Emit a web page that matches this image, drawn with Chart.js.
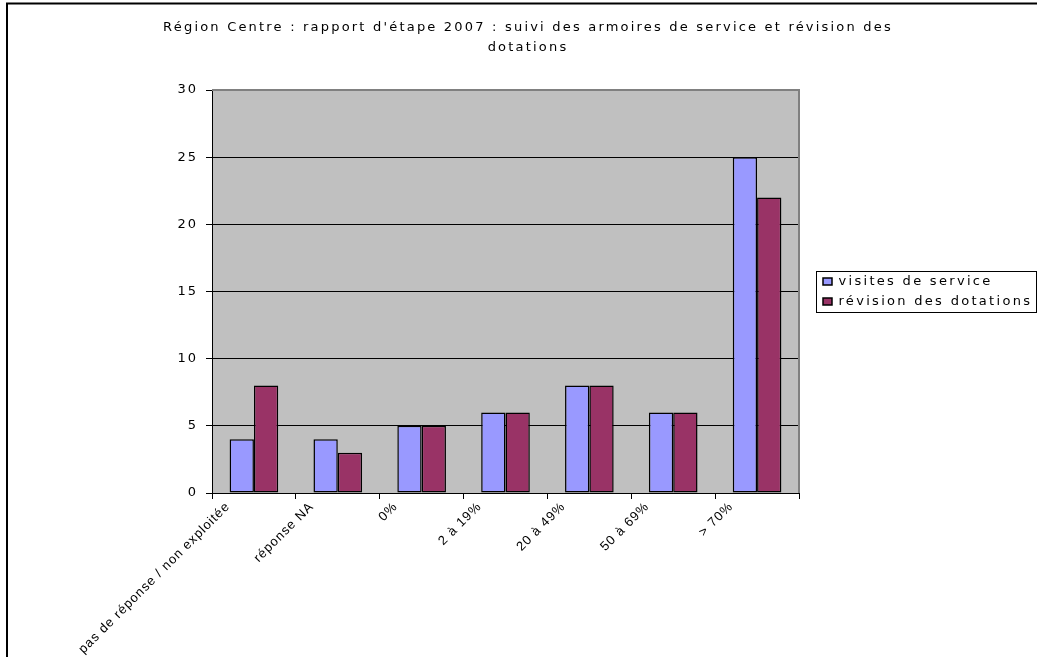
<!DOCTYPE html>
<html>
<head>
<meta charset="utf-8">
<script src="https://cdn.jsdelivr.net/npm/chart.js@4/dist/chart.umd.min.js"></script>
<style>
html,body{margin:0;padding:0;background:#fff;}
canvas{display:block;}
</style>
</head>
<body>
<canvas id="c" width="1038" height="657"></canvas>
<script>
const titleLines = ["Région Centre : rapport d'étape 2007 : suivi des armoires de service et révision des", "dotations"];
const categories = ["pas de réponse / non exploitée", "réponse NA", "0%", "2 à 19%", "20 à 49%", "50 à 69%", "> 70%"];
const visitesDeService = [4, 4, 5, 6, 8, 6, 25];
const revisionDesDotations = [8, 3, 5, 6, 8, 6, 22];
const seriesNames = ["visites de service", "révision des dotations"];
const yTicks = [0, 5, 10, 15, 20, 25, 30];

function wrapSpacing(obj, sp, methods) {
  if (!obj || obj._spWrapped) return;
  obj._spWrapped = true;
  methods.forEach(m => {
    const f = obj[m];
    if (typeof f !== 'function') return;
    obj[m] = function (...args) {
      const ctx = this.ctx;
      const old = ctx.letterSpacing;
      ctx.letterSpacing = sp;
      try { return f.apply(this, args); } finally { ctx.letterSpacing = old; }
    };
  });
}

const layoutPlugin = {
  id: 'layoutTweaks',
  beforeLayout(chart) {
    const lg = chart.legend;
    if (lg && !lg._patched) {
      const f = lg.fit;
      lg.fit = function () { f.call(this); this.width = 239; };
      lg._patched = true;
    }
    wrapSpacing(chart.legend, '2.3px', ['update', 'fit', 'draw']);
    wrapSpacing(chart.titleBlock, '2.2px', ['update', 'fit', 'draw']);
    wrapSpacing(chart.scales.y, '2px', ['update', 'fit', 'draw']);
    wrapSpacing(chart.scales.x, '1px', ['update', 'fit', 'draw']);
  },
  afterLayout(chart) {
    const lg = chart.legend;
    const a = chart.chartArea;
    if (lg) {
      lg.left = 816; lg.right = lg.left + lg.width;
      lg.top = a.top; lg.bottom = a.bottom; lg.height = a.bottom - a.top;
    }
  },
  beforeDraw(chart) {
    const ctx = chart.ctx;
    const a = chart.chartArea;
    ctx.save();
    ctx.fillStyle = '#ffffff';
    ctx.fillRect(0, 0, chart.width, chart.height);
    ctx.fillStyle = '#C0C0C0';
    ctx.fillRect(a.left, a.top, a.right - a.left, a.bottom - a.top);
    ctx.strokeStyle = '#000';
    ctx.lineWidth = 2;
    ctx.beginPath();
    ctx.moveTo(7, chart.height);
    ctx.lineTo(7, 3.5);
    ctx.lineTo(1037, 3.5);
    ctx.stroke();
    ctx.restore();
  },
  afterDraw(chart) {
    const ctx = chart.ctx;
    const a = chart.chartArea;
    ctx.save();
    ctx.strokeStyle = '#808080';
    ctx.lineWidth = 2;
    ctx.beginPath();
    ctx.moveTo(a.left, a.top);
    ctx.lineTo(a.right, a.top);
    ctx.lineTo(a.right, a.bottom);
    ctx.stroke();
    const lg = chart.legend;
    if (lg && lg.legendHitBoxes && lg.legendHitBoxes.length) {
      const hb = lg.legendHitBoxes;
      const top = hb[0].top - 4;
      const bottom = hb[hb.length - 1].top + hb[hb.length - 1].height + 4;
      ctx.strokeStyle = '#000';
      ctx.lineWidth = 1;
      ctx.strokeRect(lg.left + 0.5, top + 0.5, 1037 - lg.left - 1, bottom - top);
    }
    ctx.restore();
  }
};

new Chart(document.getElementById('c'), {
  type: 'bar',
  data: {
    labels: categories,
    datasets: [
      { label: seriesNames[0], data: visitesDeService, backgroundColor: '#9999FF', borderColor: '#000', borderWidth: 1.5, borderSkipped: false, barPercentage: 1, categoryPercentage: 0.58 },
      { label: seriesNames[1], data: revisionDesDotations, backgroundColor: '#993366', borderColor: '#000', borderWidth: 1.5, borderSkipped: false, barPercentage: 1, categoryPercentage: 0.58 }
    ]
  },
  options: {
    responsive: false,
    animation: false,
    devicePixelRatio: 1,
    layout: { padding: { left: 18, right: 0, top: 0, bottom: 0 } },
    plugins: {
      title: {
        display: true,
        text: titleLines,
        color: '#000',
        font: { family: 'DejaVu Sans', size: 13, weight: 'normal', lineHeight: 1.5 },
        padding: { top: 18, bottom: 33 }
      },
      legend: {
        position: 'right',
        align: 'center',
        labels: {
          color: '#000',
          boxWidth: 9,
          boxHeight: 7,
          padding: 7,
          font: { family: 'DejaVu Sans', size: 13 }
        }
      },
      tooltip: { enabled: false }
    },
    scales: {
      x: {
        offset: true,
        grid: { display: true, offset: true, drawOnChartArea: false, drawTicks: true, tickLength: 6, color: '#000' },
        border: { display: true, color: '#000', width: 1 },
        ticks: {
          autoSkip: false,
          maxRotation: 45,
          minRotation: 45,
          labelOffset: -26,
          padding: 0,
          color: '#000',
          font: { family: 'Liberation Sans', size: 13 }
        },
        afterFit(scale) { scale.height = 164; }
      },
      y: {
        min: 0,
        max: 30,
        afterBuildTicks(scale) { scale.ticks = yTicks.map(v => ({ value: v })); },
        grid: {
          color: (c) => (c.tick && c.tick.value === 30) ? '#808080' : '#000',
          tickColor: '#000',
          tickLength: 6,
          lineWidth: 1
        },
        border: { display: true, color: '#000', width: 1 },
        ticks: {
          padding: 8,
          color: '#000',
          font: { family: 'DejaVu Sans', size: 13 }
        },
        afterFit(scale) { scale.width = 194; }
      }
    }
  },
  plugins: [layoutPlugin]
});
</script>
</body>
</html>
